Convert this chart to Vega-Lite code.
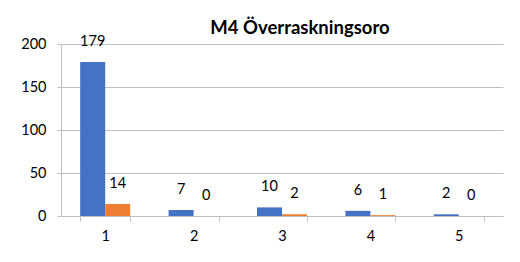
{
  "$schema": "https://vega.github.io/schema/vega-lite/v6.json",
  "autosize": {"type": "none"},
  "padding": {"left": 61, "top": 44, "right": 17, "bottom": 46},
  "width": 442,
  "height": 172,
  "background": "white",
  "title": {
    "text": "M4 Överraskningsoro",
    "font": "Lato",
    "fontSize": 18.5,
    "fontWeight": "bold",
    "color": "#000000",
    "anchor": "middle",
    "dx": 18,
    "offset": -3
  },
  "data": {
    "values": [
      {"cat": "1", "series": "A", "value": 179},
      {"cat": "1", "series": "B", "value": 14},
      {"cat": "2", "series": "A", "value": 7},
      {"cat": "2", "series": "B", "value": 0},
      {"cat": "3", "series": "A", "value": 10},
      {"cat": "3", "series": "B", "value": 2},
      {"cat": "4", "series": "A", "value": 6},
      {"cat": "4", "series": "B", "value": 1},
      {"cat": "5", "series": "A", "value": 2},
      {"cat": "5", "series": "B", "value": 0}
    ]
  },
  "encoding": {
    "x": {
      "field": "cat",
      "type": "nominal",
      "scale": {"paddingInner": 0.434, "paddingOuter": 0.217},
      "axis": {
        "title": null,
        "labelAngle": 0,
        "labelFont": "Lato",
        "labelFontSize": 14.5,
        "labelColor": "#000000",
        "domainColor": "#BFBFBF",
        "tickColor": "#BFBFBF",
        "tickSize": 5,
        "tickBand": "extent",
        "labelPadding": 8,
        "grid": false
      }
    },
    "xOffset": {"field": "series", "type": "nominal", "scale": {"paddingInner": 0, "paddingOuter": 0}},
    "y": {
      "field": "value",
      "type": "quantitative",
      "scale": {"domain": [0, 200], "nice": false},
      "axis": {
        "title": null,
        "values": [0, 50, 100, 150, 200],
        "labelFont": "Lato",
        "labelFontSize": 14.5,
        "labelColor": "#000000",
        "domainColor": "#BFBFBF",
        "tickColor": "#BFBFBF",
        "tickSize": 4,
        "labelPadding": 11,
        "gridColor": "#BFBFBF"
      }
    }
  },
  "layer": [
    {
      "mark": {"type": "bar"},
      "encoding": {
        "color": {
          "field": "series",
          "type": "nominal",
          "scale": {"domain": ["A", "B"], "range": ["#4472C4", "#ED7D31"]},
          "legend": null
        }
      }
    },
    {
      "mark": {"type": "text", "baseline": "middle", "dy": -20, "font": "Lato", "fontSize": 14.5, "color": "#000000"},
      "encoding": {"text": {"field": "value", "type": "quantitative"}}
    }
  ],
  "config": {"view": {"stroke": null}}
}
